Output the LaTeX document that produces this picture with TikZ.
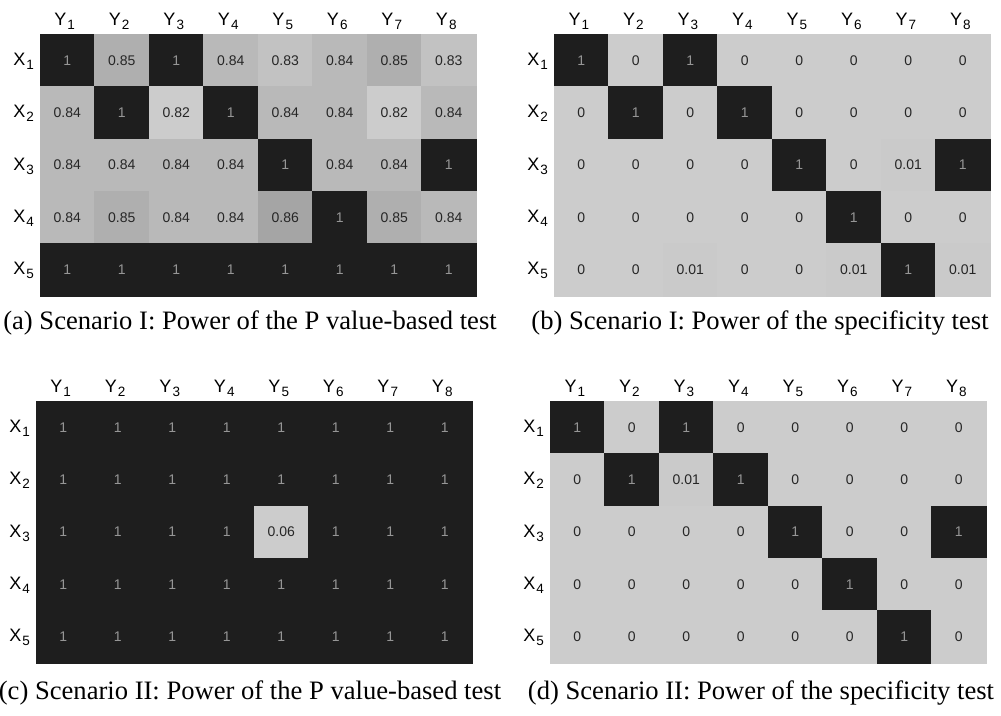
\documentclass[tikz,border=0pt]{standalone}
\usepackage{fontspec}
\setmainfont{Liberation Serif}
\newfontfamily\sansf{Liberation Sans}
\definecolor{numgray}{RGB}{150,150,150}
\definecolor{numblack}{RGB}{38,38,38}
\newcommand\lsub[2]{#1\kern1pt\raisebox{-4pt}{\fontsize{13.5}{13.5}\selectfont #2}}
\tikzset{
  cell/.style={rectangle, minimum width=54.5pt, minimum height=52.4pt, inner sep=0pt, line width=0.4pt, font=\sansf\fontsize{14}{14}\selectfont},
  lab/.style={inner sep=0pt, font=\sansf\fontsize{18}{18}\selectfont},
  capt/.style={inner sep=0pt, anchor=base, font=\fontsize{26.6}{30}\selectfont}
}
\newcommand\heatmap[6]{%
  \foreach \row [count=\i] in {#6} {
    \foreach \v [count=\j] in \row {
      \pgfmathtruncatemacro\g{round(204-(\v-#4)/(#5-#4)*174)}
      \pgfmathtruncatemacro\dk{((\v-#4)/(#5-#4))>0.5}
      \definecolor{cellfill}{RGB}{\g,\g,\g}
      \ifnum\dk=1 \def\tc{numgray}\else\def\tc{numblack}\fi
      \node[cell, fill=cellfill, draw=cellfill, text=\tc] (#1-\i-\j) at ({#2+(\j-0.5)*54.5},{#3+(\i-0.5)*52.4}) {\v};
    }
  }
  \foreach \j in {1,...,8} {\node[lab, anchor=base] (#1-y\j) at ({#2+(\j-0.5)*54.5-2.5},{#3-9}) {\lsub{Y}{\j}};}
  \foreach \i in {1,...,5} {\node[lab, anchor=base east] (#1-x\i) at ({#2-6},{#3+(\i-0.5)*52.4+5}) {\lsub{X}{\i}};}
}
\begin{document}
\begin{tikzpicture}[x=1pt, y=-1pt]
\useasboundingbox (0,0) rectangle (1001,715);
\heatmap{a}{40}{34}{0.82}{1}{
  {1,0.85,1,0.84,0.83,0.84,0.85,0.83},
  {0.84,1,0.82,1,0.84,0.84,0.82,0.84},
  {0.84,0.84,0.84,0.84,1,0.84,0.84,1},
  {0.84,0.85,0.84,0.84,0.86,1,0.85,0.84},
  {1,1,1,1,1,1,1,1}}
\heatmap{b}{554}{34}{0}{1}{
  {1,0,1,0,0,0,0,0},
  {0,1,0,1,0,0,0,0},
  {0,0,0,0,1,0,0.01,1},
  {0,0,0,0,0,1,0,0},
  {0,0,0.01,0,0,0.01,1,0.01}}
\heatmap{c}{36}{401}{0.06}{1}{
  {1,1,1,1,1,1,1,1},
  {1,1,1,1,1,1,1,1},
  {1,1,1,1,0.06,1,1,1},
  {1,1,1,1,1,1,1,1},
  {1,1,1,1,1,1,1,1}}
\heatmap{d}{550}{401}{0}{1}{
  {1,0,1,0,0,0,0,0},
  {0,1,0.01,1,0,0,0,0},
  {0,0,0,0,1,0,0,1},
  {0,0,0,0,0,1,0,0},
  {0,0,0,0,0,0,1,0}}
\node[capt] (capa) at (250,329) {(a) Scenario I: Power of the P value-based test};
\node[capt] (capb) at (760,329) {(b) Scenario I: Power of the specificity test};
\node[capt] (capc) at (250,699) {(c) Scenario II: Power of the P value-based test};
\node[capt] (capd) at (761,699) {(d) Scenario II: Power of the specificity test};
\end{tikzpicture}
\end{document}
